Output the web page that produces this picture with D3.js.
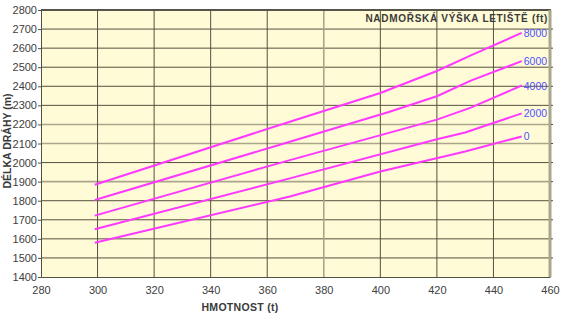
<!DOCTYPE html>
<html>
<head>
<meta charset="utf-8">
<script src="https://cdn.jsdelivr.net/npm/d3@7"></script>
<style>
  body { margin: 0; background: #fff; }
  svg text { font-family: "Liberation Sans", Arial, sans-serif; }
</style>
</head>
<body>
<svg id="chart"></svg>
<script>
// mass (t) ticks and runway length (m) ticks
const massTicks = [280, 300, 320, 340, 360, 380, 400, 420, 440, 460];
const lengthTicks = [1400, 1500, 1600, 1700, 1800, 1900, 2000, 2100, 2200, 2300, 2400, 2500, 2600, 2700, 2800];
const lightH = [1900, 2100, 2200];
const lightV = [380];

// airport elevation curves, [mass, length]
const elevations = ["8000", "6000", "4000", "2000", "0"];
const alt8000 = [[299, 1884], [368, 2214], [400, 2365], [420, 2480], [432, 2562], [450, 2680]];
const alt6000 = [[299, 1804], [368, 2109], [403, 2265], [420, 2348], [432, 2430], [450, 2532]];
const alt4000 = [[299, 1722], [368, 2013], [420, 2225], [432, 2288], [450, 2404]];
const alt2000 = [[299, 1650], [368, 1917], [420, 2122], [430, 2158], [450, 2258]];
const alt0 = [[299, 1580], [368, 1822], [400, 1953], [430, 2058], [450, 2137]];
const curves = [alt8000, alt6000, alt4000, alt2000, alt0];

const W = 562, H = 320;
const margin = { top: 10, right: 12, bottom: 43, left: 41 };

const x = d3.scaleLinear().domain([280, 460]).range([margin.left, W - margin.right]);
const y = d3.scaleLinear().domain([1400, 2800]).range([H - margin.bottom, margin.top]);

const svg = d3.select("#chart").attr("width", W).attr("height", H);

svg.append("rect")
  .attr("x", x(280)).attr("y", y(2800))
  .attr("width", x(460) - x(280)).attr("height", y(1400) - y(2800))
  .attr("fill", "#fffbd7");

// grid
svg.append("g")
  .selectAll("line")
  .data(lengthTicks.slice(1, -1))
  .join("line")
  .attr("x1", x(280)).attr("x2", x(460))
  .attr("y1", d => y(d)).attr("y2", d => y(d))
  .attr("stroke", d => lightH.includes(d) ? "#aaa68c" : "#55513f")
  .attr("stroke-width", d => lightH.includes(d) ? 1.6 : 1);

svg.append("g")
  .selectAll("line")
  .data(massTicks.slice(1, -1))
  .join("line")
  .attr("x1", d => x(d)).attr("x2", d => x(d))
  .attr("y1", y(2800)).attr("y2", y(1400))
  .attr("stroke", d => lightV.includes(d) ? "#aaa68c" : "#55513f")
  .attr("stroke-width", d => lightV.includes(d) ? 1.6 : 1);

// frame
svg.append("line")
  .attr("x1", x(280)).attr("x2", x(460) + 1)
  .attr("y1", y(2800)).attr("y2", y(2800))
  .attr("stroke", "#55534a").attr("stroke-width", 2);
svg.append("line")
  .attr("x1", x(460)).attr("x2", x(460))
  .attr("y1", y(2800)).attr("y2", y(1400))
  .attr("stroke", "#aaa68c").attr("stroke-width", 3);

// right side small ticks
svg.append("g")
  .selectAll("line")
  .data(lengthTicks.slice(1, -1))
  .join("line")
  .attr("x1", x(460) + 1).attr("x2", x(460) + 3)
  .attr("y1", d => y(d)).attr("y2", d => y(d))
  .attr("stroke", "#55513f");

// axes
const yAxis = svg.append("g")
  .attr("transform", `translate(${margin.left},0)`)
  .call(d3.axisLeft(y).tickValues(lengthTicks).tickSize(3).tickPadding(1).tickFormat(d3.format("d")));
const xAxis = svg.append("g")
  .attr("transform", `translate(0,${H - margin.bottom})`)
  .call(d3.axisBottom(x).tickValues(massTicks).tickSize(0).tickPadding(9).tickFormat(d3.format("d")));

[xAxis, yAxis].forEach(g => {
  g.select(".domain").attr("stroke", "#55513f");
  g.selectAll(".tick line").attr("stroke", "#55513f");
  g.selectAll("text").attr("fill", "#404040").style("font-size", "11px");
});

// curves
const line = d3.line().x(d => x(d[0])).y(d => y(d[1]));
svg.append("g")
  .selectAll("path")
  .data(curves)
  .join("path")
  .attr("d", line)
  .attr("fill", "none")
  .attr("stroke", "#ff38ff")
  .attr("stroke-width", 2);

svg.append("g")
  .selectAll("text")
  .data(curves)
  .join("text")
  .attr("x", d => x(d[d.length - 1][0]) + 2)
  .attr("y", d => y(d[d.length - 1][1]) + 4)
  .attr("fill", "#5050ff")
  .style("font-size", "10.5px")
  .text((d, i) => elevations[i]);

// titles
svg.append("text")
  .attr("x", 548).attr("y", 22)
  .attr("text-anchor", "end")
  .attr("fill", "#3a3a3a")
  .style("font-size", "10px").style("font-weight", "bold")
  .style("letter-spacing", "0.7px")
  .text("NADMOŘSKÁ VÝŠKA LETIŠTĚ (ft)");

svg.append("text")
  .attr("x", 240).attr("y", 311)
  .attr("text-anchor", "middle")
  .attr("fill", "#3a3a3a")
  .style("font-size", "10.5px").style("font-weight", "bold")
  .style("letter-spacing", "0.3px")
  .text("HMOTNOST (t)");

svg.append("text")
  .attr("transform", "translate(11,141) rotate(-90)")
  .attr("text-anchor", "middle")
  .attr("fill", "#3a3a3a")
  .style("font-size", "10.5px").style("font-weight", "bold")
  .text("DÉLKA DRÁHY (m)");
</script>
</body>
</html>
